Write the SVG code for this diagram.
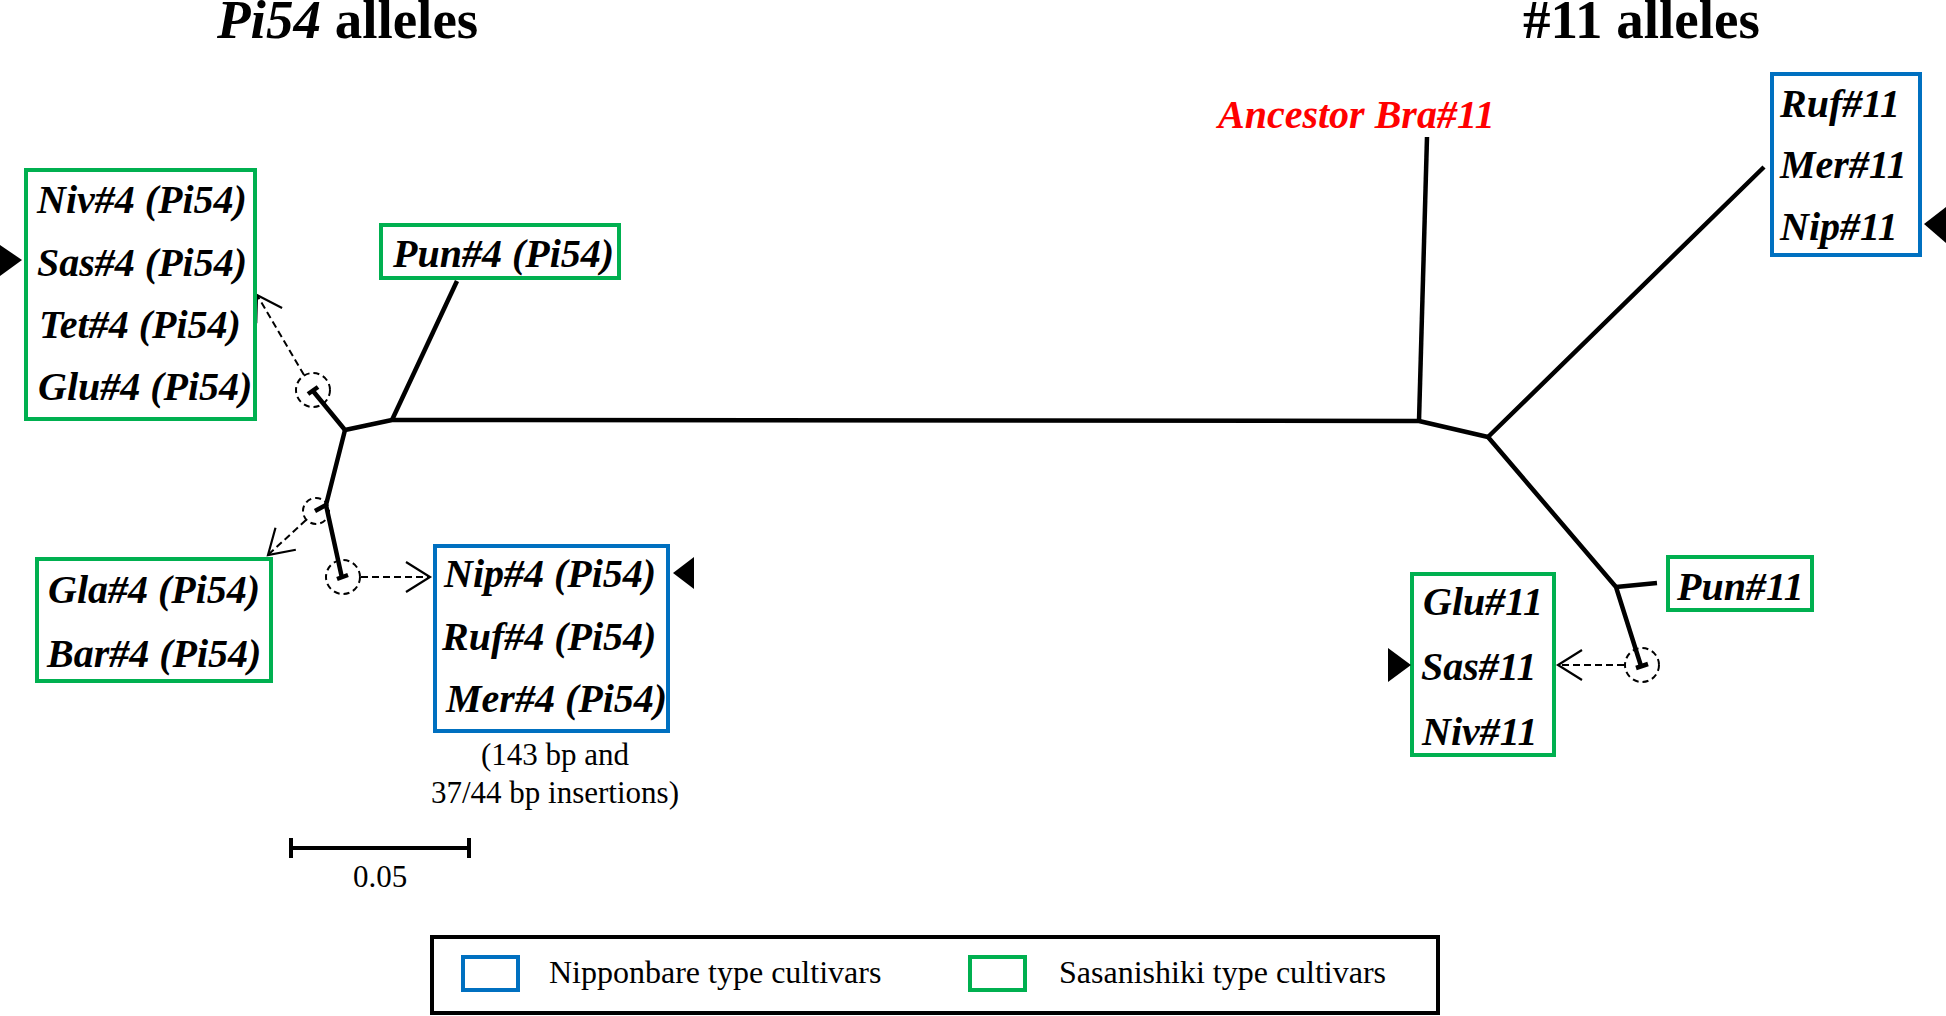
<svg xmlns="http://www.w3.org/2000/svg" width="1946" height="1016" viewBox="0 0 1946 1016">
<style>
.bg{fill:#fff}
.lab{font-family:"Liberation Serif","Times New Roman",serif;font-weight:bold;font-style:italic;font-size:40px;fill:#000}
.title{font-family:"Liberation Serif","Times New Roman",serif;font-weight:bold;font-size:55px;fill:#000}
.note{font-family:"Liberation Serif","Times New Roman",serif;font-size:31px;fill:#000}
.leg{font-family:"Liberation Serif","Times New Roman",serif;font-size:32px;fill:#000}
.g{fill:#fff;stroke:#00B050;stroke-width:4}
.b{fill:#fff;stroke:#0070C0;stroke-width:4}
.tree{fill:none;stroke:#000;stroke-width:4.5;stroke-linejoin:round}
.dash{fill:none;stroke:#000;stroke-width:2;stroke-dasharray:7 4}
.circ{fill:none;stroke:#000;stroke-width:2;stroke-dasharray:6 4}
.tri{fill:#000}
</style>
<defs>
<marker id="arr" markerUnits="userSpaceOnUse" markerWidth="40" markerHeight="40" viewBox="-30 -20 40 40" refX="0" refY="0" orient="auto">
<path d="M-24,-15 L0,0 L-24,15" fill="none" stroke="#000" stroke-width="2.2" stroke-dasharray="none"/>
</marker>
</defs>
<rect class="bg" x="0" y="0" width="1946" height="1016"/>

<text class="title" x="217" y="38"><tspan font-style="italic">Pi54</tspan> alleles</text>
<text class="title" x="1523" y="38">#11 alleles</text>

<g id="connectors">
<path class="tree" d="M313,391 L345,430 L392,420 L1419,421 L1488,437 L1764,167"/>
<path class="tree" d="M392,420 L457,281"/>
<path class="tree" d="M1419,421 L1427,137"/>
<path class="tree" d="M1488,437 L1616,587 L1641,666"/>
<path class="tree" d="M1616,587 L1657,583"/>
<path class="tree" d="M345,430 L326,505 L342,578"/>
<path class="tree" d="M326,505 L315,511"/>
<path class="tree" d="M308,394 L318,387"/>
<path class="tree" d="M337,579 L348,575"/>
<path class="tree" d="M1636,668 L1648,664"/>
<circle class="circ" cx="313" cy="390" r="17"/>
<circle class="circ" cx="316" cy="511" r="13"/>
<circle class="circ" cx="343" cy="577" r="17"/>
<circle class="circ" cx="1642" cy="665" r="17"/>
<path class="dash" d="M304,375 L257,295" marker-end="url(#arr)"/>
<path class="dash" d="M306,520 L268,555" marker-end="url(#arr)"/>
<path class="dash" d="M361,577 L430,577" marker-end="url(#arr)"/>
<path class="dash" d="M1624,665 L1558,665" marker-end="url(#arr)"/>
</g>

<g id="node-niv4">
<rect class="g" x="26" y="170" width="229" height="249"/>
<text class="lab" x="37" y="213">Niv#4 (Pi54)</text>
<text class="lab" x="37" y="276">Sas#4 (Pi54)</text>
<text class="lab" x="39" y="338">Tet#4 (Pi54)</text>
<text class="lab" x="38" y="400">Glu#4 (Pi54)</text>
<polygon class="tri" points="0,245 22,260 0,276"/>
</g>

<g id="node-pun4">
<rect class="g" x="381" y="225" width="238" height="53"/>
<text class="lab" x="393" y="267">Pun#4 (Pi54)</text>
</g>

<g id="node-gla4">
<rect class="g" x="37" y="559" width="234" height="122"/>
<text class="lab" x="48" y="603">Gla#4 (Pi54)</text>
<text class="lab" x="47" y="667">Bar#4 (Pi54)</text>
</g>

<g id="node-nip4">
<rect class="b" x="435" y="546" width="233" height="185"/>
<text class="lab" x="444" y="587">Nip#4 (Pi54)</text>
<text class="lab" x="442" y="650">Ruf#4 (Pi54)</text>
<text class="lab" x="446" y="712">Mer#4 (Pi54)</text>
<polygon class="tri" points="694,557 673,573 694,589"/>
<text class="note" x="555" y="765" text-anchor="middle">(143 bp and</text>
<text class="note" x="555" y="803" text-anchor="middle">37/44 bp insertions)</text>
</g>

<g id="node-ancestor">
<text class="lab" x="1218" y="128" fill="#FF0000" style="fill:#FF0000">Ancestor Bra#11</text>
</g>

<g id="node-ruf11">
<rect class="b" x="1772" y="74" width="148" height="181"/>
<text class="lab" x="1780" y="117">Ruf#11</text>
<text class="lab" x="1780" y="178">Mer#11</text>
<text class="lab" x="1780" y="240">Nip#11</text>
<polygon class="tri" points="1946,207 1924,224 1946,243"/>
</g>

<g id="node-pun11">
<rect class="g" x="1668" y="557" width="144" height="53"/>
<text class="lab" x="1677" y="600">Pun#11</text>
</g>

<g id="node-glu11">
<rect class="g" x="1412" y="574" width="142" height="181"/>
<text class="lab" x="1423" y="615">Glu#11</text>
<text class="lab" x="1421" y="680">Sas#11</text>
<text class="lab" x="1422" y="745">Niv#11</text>
<polygon class="tri" points="1388,648 1411,665 1388,682"/>
</g>

<g id="scalebar">
<path d="M291,848 L469,848 M291,838 L291,858 M469,838 L469,858" fill="none" stroke="#000" stroke-width="4"/>
<text class="note" x="380" y="887" text-anchor="middle">0.05</text>
</g>

<g id="legend">
<rect x="432" y="937" width="1006" height="76" fill="#fff" stroke="#000" stroke-width="4"/>
<rect class="b" x="463" y="957" width="55" height="33"/>
<text class="leg" x="549" y="983">Nipponbare type cultivars</text>
<rect class="g" x="970" y="957" width="55" height="33"/>
<text class="leg" x="1059" y="983">Sasanishiki type cultivars</text>
</g>
</svg>
